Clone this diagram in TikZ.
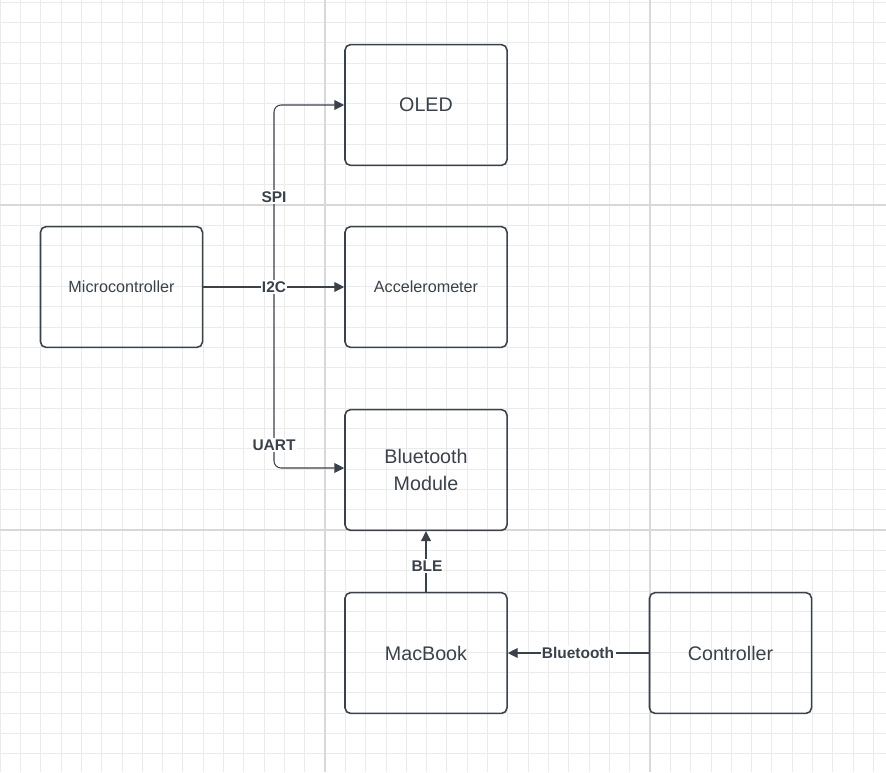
\documentclass[tikz,border=0pt]{standalone}
\usepackage{fontspec}
\setmainfont{Liberation Sans}
\usetikzlibrary{arrows.meta}
\definecolor{ink}{HTML}{3A414A}
\definecolor{minorgrid}{HTML}{EBEBEB}
\definecolor{majorgrid}{HTML}{D8D8D8}
\tikzset{
  block/.style={draw=ink, line width=1.1pt, rounded corners=4pt, minimum width=4.05cm, minimum height=3.02cm, text=ink, align=center},
  bus/.style={draw=ink, line width=0.75pt, -{Triangle[length=7pt,width=7pt]}},
  tag/.style={fill=white, inner sep=1pt, text=ink, font=\fontsize{11}{13}\selectfont\bfseries}
}
\begin{document}
\begin{tikzpicture}[x=0.025cm, y=-0.025cm]
\useasboundingbox (0,0) rectangle (886,772);
% grid
\foreach \k in {0,...,43} \draw[minorgrid, line width=0.5pt] ({\k*20.31},0) -- ({\k*20.31},772);
\foreach \k in {0,...,38} \draw[minorgrid, line width=0.5pt] (0,{2+\k*20.31}) -- (886,{2+\k*20.31});
\foreach \x in {325,650} \draw[majorgrid, line width=0.9pt] (\x,0) -- (\x,772);
\foreach \y in {205,530} \draw[majorgrid, line width=0.9pt] (0,\y) -- (886,\y);
% blocks
\node[block, font=\fontsize{14}{19}\selectfont] (oled) at (426,105) {OLED};
\node[block, font=\fontsize{11.5}{14}\selectfont] (accel) at (426,287) {Accelerometer};
\node[block, font=\fontsize{11.5}{14}\selectfont] (mcu) at (121.5,287) {Microcontroller};
\node[block, font=\fontsize{14}{19}\selectfont] (bt) at (426,470) {Bluetooth\\Module};
\node[block, font=\fontsize{14}{19}\selectfont] (mac) at (426,653) {MacBook};
\node[block, font=\fontsize{14}{19}\selectfont] (ctrl) at (730.5,653) {Controller};
% connectors
\coordinate (split) at (274,287);
\draw[bus] (mcu) -- (accel);
\draw[bus, rounded corners=5pt] (split) |- (oled.west);
\draw[bus, rounded corners=5pt] (split) |- (bt.west |- 0,468);
\draw[bus] (mac) -- (bt);
\draw[bus] (ctrl) -- (mac);
\node[tag] (spi) at (274,197) {SPI};
\node[tag] (i2c) at (split) {I2C};
\node[tag] (uart) at (274,445) {UART};
\node[tag] (ble) at (427,566) {BLE};
\node[tag] (btl) at (578,653) {Bluetooth};
\end{tikzpicture}
\end{document}
